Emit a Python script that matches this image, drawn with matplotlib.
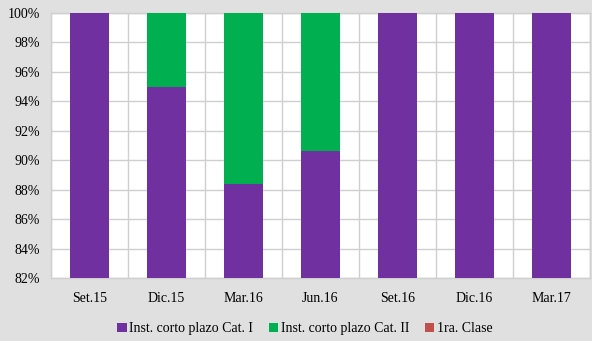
import matplotlib.pyplot as plt
import numpy as np

periods = ["Set.15", "Dic.15", "Mar.16", "Jun.16", "Set.16", "Dic.16", "Mar.17"]
cat_1 = [100.0, 95.0, 88.4, 90.6, 100.0, 100.0, 100.0]
cat_2 = [0.0, 5.0, 11.6, 9.4, 0.0, 0.0, 0.0]
primera = [0.0, 0.0, 0.0, 0.0, 0.0, 0.0, 0.0]

series_names = ["Inst. corto plazo Cat. I", "Inst. corto plazo Cat. II", "1ra. Clase"]
colors = ["#7030A0", "#00B050", "#C0504D"]

plt.rcParams["font.family"] = ["Liberation Serif", "DejaVu Serif"]

fig = plt.figure(figsize=(5.92, 3.41), dpi=100)
fig.patch.set_facecolor("#E0E0E0")
ax = fig.add_axes([51 / 592, 1 - 278 / 341, 539 / 592, 265 / 341])
ax.set_facecolor("white")

x = np.arange(len(periods))
b1 = ax.bar(x, cat_1, width=0.5, color=colors[0], label=series_names[0], zorder=3)
b2 = ax.bar(x, cat_2, width=0.5, bottom=cat_1, color=colors[1], label=series_names[1], zorder=3)
bottom3 = np.array(cat_1) + np.array(cat_2)
b3 = ax.bar(x, primera, width=0.5, bottom=bottom3, color=colors[2], label=series_names[2], zorder=3)

ax.set_ylim(82, 100)
ax.set_xlim(-0.5, len(periods) - 0.5)
ax.set_yticks(np.arange(82, 101, 2))
ax.set_yticklabels([f"{v}%" for v in range(82, 101, 2)], fontsize=10)
ax.set_xticks(x)
ax.set_xticklabels(periods, fontsize=10)
ax.set_xticks(np.arange(-0.5, len(periods)), minor=True)
ax.tick_params(axis="both", which="both", length=0)
ax.tick_params(axis="x", pad=10)
ax.tick_params(axis="y", pad=8)

ax.grid(axis="y", color="#CFCFCF", linewidth=1, zorder=0)
ax.grid(axis="x", which="minor", color="#CFCFCF", linewidth=1, zorder=0)
for s in ax.spines.values():
    s.set_color("#CFCFCF")
    s.set_linewidth(1)

fig.legend(handles=[b1, b2, b3], labels=series_names, loc="lower center",
           bbox_to_anchor=(0.515, -0.02), ncol=3, frameon=False, fontsize=10,
           handlelength=0.7, handleheight=0.7, handletextpad=0.2, columnspacing=1.1)

fig.savefig("out.png", dpi=100, facecolor=fig.get_facecolor())
